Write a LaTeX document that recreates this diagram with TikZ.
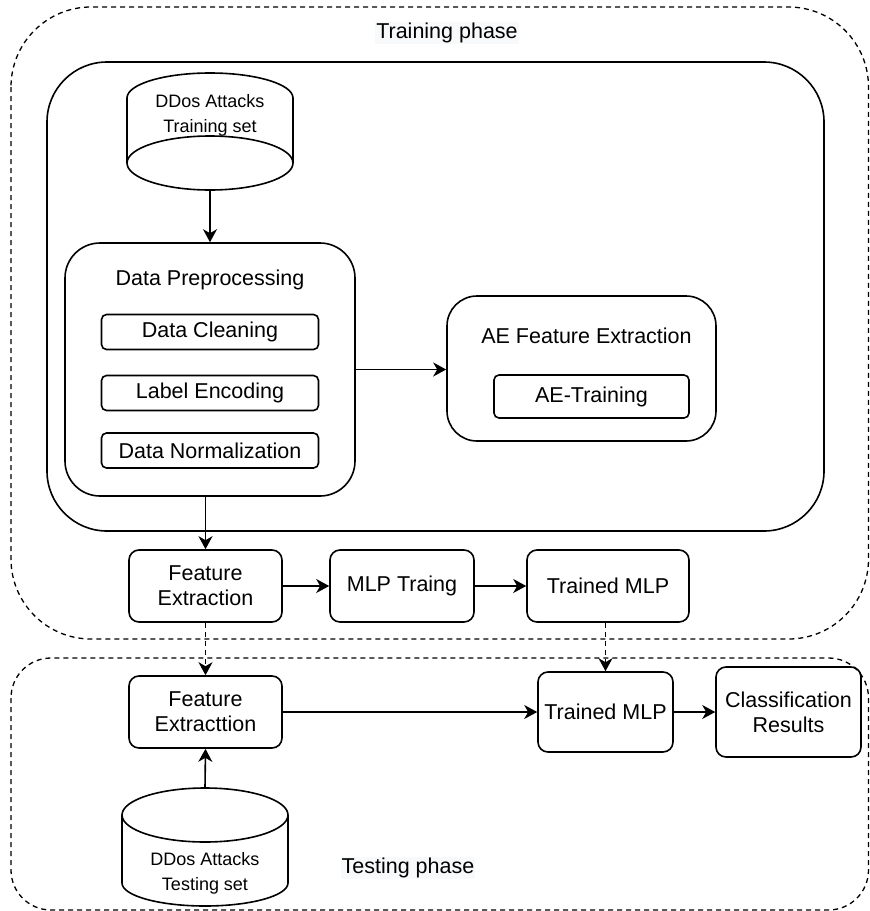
\documentclass[tikz,border=0pt]{standalone}
\usepackage{fontspec}
\setmainfont{Liberation Sans}
\usetikzlibrary{arrows.meta}
\definecolor{labelbg}{HTML}{F8F9FA}

\begin{document}
\begin{tikzpicture}[x=1pt, y=-1pt,
        box/.style={rectangle, draw, line width=1.6pt, rounded corners=10pt, align=center, inner sep=0pt, font=\fontsize{21.5}{25}\selectfont},
        subbox/.style={box, rounded corners=5pt, minimum width=217pt, minimum height=35pt},
        headtext/.style={inner sep=1pt, font=\fontsize{21.5}{25}\selectfont},
        dbtext/.style={align=center, inner sep=0pt, font=\fontsize{18}{25}\selectfont},
        phase/.style={draw, line width=1.3pt, dash pattern=on 5pt off 4pt},
        flow/.style={line width=1.6pt, -{Stealth[length=13pt, width=14pt, inset=4pt]}},
        dashflow/.style={flow, line width=1.2pt, dash pattern=on 5pt off 4pt},
        ]
        \useasboundingbox (0,0) rectangle (870,911);

        % Phase outlines (dashed)
        \draw[phase, rounded corners=80pt] (11,7) rectangle (868.5,639);
        \draw[phase, rounded corners=40pt] (11,658) rectangle (868.5,910);
        \node[headtext, fill=labelbg] (trainlabel) at (447,33) {Training phase};
        \node[headtext, fill=labelbg] (testlabel) at (408,868) {Testing phase};

        % Inner frame of the training part
        \draw[line width=1.6pt, rounded corners=60pt] (47,62) rectangle (824,531);

        % Training set database (upside down)
        \draw[line width=1.6pt] (127,163) -- (127,98) arc[start angle=180, end angle=360, x radius=83, y radius=25] -- (293,163);
        \draw[line width=1.6pt] (210,163) ellipse[x radius=83, y radius=27];
        \node[dbtext] (trainset) at (210,115) {DDos Attacks\\Training set};
        \coordinate (trainbot) at (210,190);

        % Data preprocessing block
        \node[box, rounded corners=35pt, minimum width=290pt, minimum height=253pt] (prep) at (210,369.5) {};
        \node[headtext] (preptitle) at (210,280) {Data Preprocessing};
        \foreach \y/\name/\txt in {332/clean/Data Cleaning, 393/encode/Label Encoding, 450.5/norm/Data Normalization} {
            \node[subbox] (\name) at (210,\y) {\txt};
        }

        % AE feature extraction block
        \node[box, rounded corners=30pt, minimum width=269pt, minimum height=145pt] (ae) at (581.5,368.5) {};
        \node[headtext] (aetitle) at (586.5,336) {AE Feature Extraction};
        \node[subbox, minimum width=195pt, minimum height=43pt] (aetrain) at (591.5,396.5) {AE-Training};

        % Training row
        \node[box, minimum width=153pt, minimum height=72pt] (fe) at (205.5,586) {Feature\\Extraction};
        \node[box, minimum width=144pt, minimum height=72pt] (mlptrain) at (402,586) {MLP Traing};
        \node[box, minimum width=162pt, minimum height=72pt] (trained) at (608,586) {Trained MLP};

        % Testing row
        \node[box, minimum width=153pt, minimum height=72pt] (fetest) at (205.5,712) {Feature\\Extracttion};
        \node[box, minimum width=135pt, minimum height=80pt] (trainedtest) at (605.5,712) {Trained MLP};
        \node[box, minimum width=145pt, minimum height=90pt] (classify) at (788.5,712) {Classification\\Results};

        % Testing set database
        \draw[line width=1.6pt] (122,815) -- (122,883) arc[start angle=180, end angle=0, x radius=83, y radius=23] -- (288,815);
        \draw[line width=1.6pt] (205,815) ellipse[x radius=83, y radius=27];
        \node[dbtext] (testset) at (205,873) {DDos Attacks\\Testing set};
        \coordinate (testtop) at (205,788);

        % Connectors
        \draw[flow] (trainbot) -- (prep.north);
        \draw[flow] (prep.east) -- (prep.east -| ae.west);
        \draw[flow] (fe.north |- prep.south) -- (fe.north);
        \draw[flow] (fe) -- (mlptrain);
        \draw[flow] (mlptrain) -- (trained);
        \draw[dashflow] (fe) -- (fetest);
        \draw[dashflow] (trainedtest.north |- trained.south) -- (trainedtest.north);
        \draw[flow] (fetest) -- (trainedtest);
        \draw[flow] (trainedtest) -- (classify);
        \draw[flow] (testtop) -- (fetest.south);

    \end{tikzpicture}
\end{document}
